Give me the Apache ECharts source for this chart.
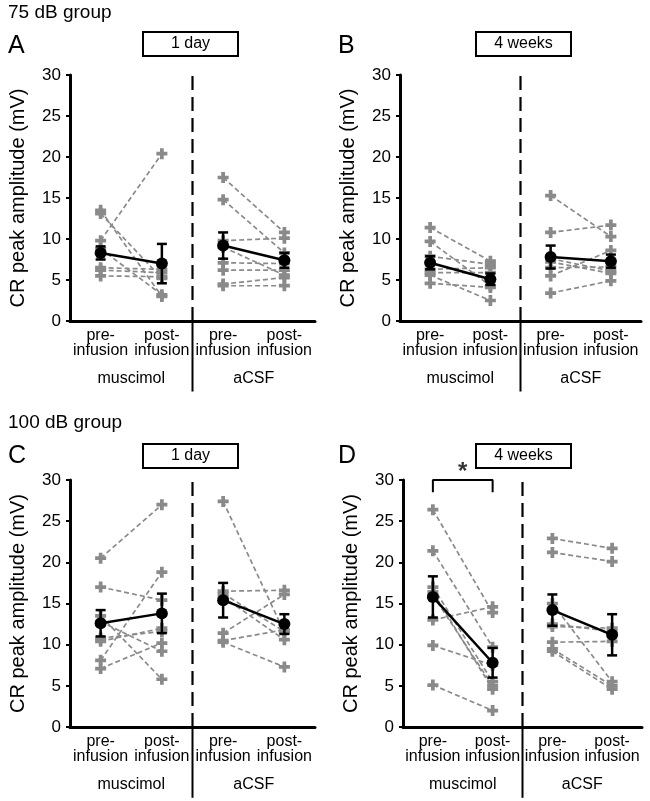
<!DOCTYPE html>
<html><head><meta charset="utf-8">
<script src="https://cdn.jsdelivr.net/npm/echarts@6/dist/echarts.min.js"></script>
<style>html,body{margin:0;padding:0;background:#fff}#c{width:650px;height:801px}</style>
</head><body><div id="c"></div>
<script>
// ---------- data ----------
const categories = ['pre-\ninfusion', 'post-\ninfusion', 'pre-\ninfusion', 'post-\ninfusion'];
const groups = ['muscimol', 'aCSF'];
const yMin = 0, yMax = 30, yStep = 5;
const yName = 'CR peak amplitude (mV)';
const groupTitles = ['75 dB group', '100 dB group'];
const panelLetters = ['A', 'B', 'C', 'D'];
const panelPeriods = ['1 day', '4 weeks', '1 day', '4 weeks'];

// Panel A (75 dB, 1 day)
const A_muscPre  = [13.5, 13.1, 9.8, 8.8, 6.5, 6.2, 5.5];
const A_muscPost = [3.0, 5.2, 20.4, 3.2, 6.3, 5.9, 5.4];
const A_csfPre   = [17.5, 14.8, 9.8, 9.0, 7.1, 6.2, 4.5, 4.3];
const A_csfPost  = [10.8, 8.3, 10.1, 5.6, 7.0, 6.2, 5.3, 4.3];
const A_mean = [8.3, 7.0, 9.2, 7.4];
const A_err  = [0.8, 2.4, 1.6, 0.9];

// Panel B (75 dB, 4 weeks)
const B_muscPre  = [11.4, 9.7, 7.9, 6.3, 5.9, 5.6, 4.6];
const B_muscPost = [7.3, 4.3, 6.9, 6.5, 5.9, 2.5, 4.1];
const B_csfPre   = [15.3, 10.8, 7.6, 7.2, 6.5, 5.5, 3.4];
const B_csfPost  = [10.3, 11.7, 6.1, 5.8, 6.6, 8.6, 4.9];
const B_mean = [7.1, 5.1, 7.8, 7.3];
const B_err  = [0.8, 0.7, 1.4, 0.8];

// Panel C (100 dB, 1 day)
const C_muscPre  = [20.5, 17.0, 13.5, 12.8, 10.8, 10.4, 8.1, 7.1];
const C_muscPost = [27.0, 15.4, 5.8, 9.2, 11.6, 12.0, 18.8, 10.2];
const C_csfPre   = [27.4, 16.5, 16.2, 15.8, 11.4, 10.5, 10.3];
const C_csfPost  = [11.5, 16.6, 11.6, 10.6, 16.1, 11.8, 7.3];
const C_mean = [12.6, 13.8, 15.4, 12.5];
const C_err  = [1.6, 2.4, 2.1, 1.2];

// Panel D (100 dB, 4 weeks)
const D_muscPre  = [26.4, 21.4, 17.0, 16.4, 16.0, 13.0, 9.9, 5.1];
const D_muscPost = [13.9, 9.7, 5.5, 4.6, 5.0, 14.6, 7.5, 2.0];
const D_csfPre   = [22.9, 21.2, 15.0, 12.5, 12.2, 10.3, 9.5, 9.2];
const D_csfPost  = [21.7, 20.1, 5.5, 11.6, 12.0, 10.4, 5.0, 4.6];
const D_mean = [15.8, 7.8, 14.2, 11.2];
const D_err  = [2.5, 1.8, 1.9, 2.5];

// significance (panel D, muscimol pre vs post)
const sigFrom = 1, sigTo = 2, sigLevel = 30, sigDrop = 1.5, sigMark = '*';
const dividerX = 2.5;

// ---------- build ----------
const FONT = 'Liberation Sans, Arial, sans-serif';
const GREY = '#8a8a8a';
const PLUS = 'path://M3.3,0H6.7V3.3H10V6.7H6.7V10H3.3V6.7H0V3.3H3.3Z';

const panels = [
  {musc: [A_muscPre, A_muscPost], csf: [A_csfPre, A_csfPost], mean: A_mean, err: A_err, grid: {left: 70, top: 75, width: 245, height: 246}},
  {musc: [B_muscPre, B_muscPost], csf: [B_csfPre, B_csfPost], mean: B_mean, err: B_err, grid: {left: 400, top: 75, width: 241, height: 246}},
  {musc: [C_muscPre, C_muscPost], csf: [C_csfPre, C_csfPost], mean: C_mean, err: C_err, grid: {left: 70, top: 480, width: 245, height: 247}},
  {musc: [D_muscPre, D_muscPost], csf: [D_csfPre, D_csfPost], mean: D_mean, err: D_err, grid: {left: 403, top: 480, width: 239, height: 247}, sig: true}
];

const grid = [], xAxis = [], yAxis = [], series = [];
panels.forEach((p, i) => {
  grid.push(p.grid);
  const vx = xAxis.length;
  xAxis.push({type: 'value', gridIndex: i, min: 0.5, max: 4.5, show: false});
  xAxis.push({type: 'category', gridIndex: i, position: 'bottom', data: categories, boundaryGap: true,
    axisLine: {lineStyle: {color: '#000', width: 3}},
    axisTick: {alignWithLabel: true, inside: true, length: 4, lineStyle: {color: '#000', width: 2}},
    axisLabel: {color: '#000', fontSize: 16, lineHeight: 15, fontFamily: FONT, margin: 7, interval: 0},
    splitLine: {show: false}});
  xAxis.push({type: 'category', gridIndex: i, position: 'bottom', data: groups, boundaryGap: true,
    axisLine: {show: false}, axisTick: {show: false},
    axisLabel: {color: '#000', fontSize: 16, fontFamily: FONT, margin: 50, interval: 0},
    splitLine: {show: false}});
  yAxis.push({type: 'value', gridIndex: i, min: yMin, max: yMax, interval: yStep,
    name: yName, nameLocation: 'middle', nameGap: 42, nameRotate: 90,
    nameTextStyle: {color: '#000', fontSize: 20, fontFamily: FONT},
    axisLine: {show: true, lineStyle: {color: '#000', width: 3}},
    axisTick: {show: true, length: 4, lineStyle: {color: '#000', width: 2}},
    axisLabel: {color: '#000', fontSize: 17, fontFamily: FONT, margin: 9},
    splitLine: {show: false}});

  const common = {xAxisIndex: vx, yAxisIndex: i};
  series.push(Object.assign({type: 'line', data: [[dividerX, yMin], [dividerX, yMax + 0.4]], symbol: 'none', clip: false, silent: true,
    lineStyle: {color: '#000', width: 2.2, type: [14, 7]}, z: 1}, common));
  series.push(Object.assign({type: 'line', data: [[dividerX, yMin], [dividerX, yMin - 8.6]], symbol: 'none', clip: false, silent: true,
    lineStyle: {color: '#000', width: 2}, z: 1}, common));

  [[p.musc, 1], [p.csf, 3]].forEach(([arr, x0]) => {
    arr[0].forEach((v, k) => {
      series.push(Object.assign({type: 'line', data: [[x0, v], [x0 + 1, arr[1][k]]],
        symbol: PLUS, symbolSize: 11, showSymbol: true, clip: false,
        itemStyle: {color: GREY}, lineStyle: {color: GREY, width: 1.7, type: [5, 3]}, z: 2}, common));
    });
  });

  [[0, 1], [2, 3]].forEach(([a, b]) => {
    series.push(Object.assign({type: 'line', data: [[a + 1, p.mean[a]], [b + 1, p.mean[b]]],
      symbol: 'circle', symbolSize: 12, itemStyle: {color: '#000'}, lineStyle: {color: '#000', width: 2.5}, z: 5}, common));
  });
  series.push(Object.assign({type: 'custom', z: 6,
    data: p.mean.map((m, k) => [k + 1, m, p.err[k]]),
    encode: {x: 0, y: 1},
    renderItem: (params, api) => {
      const x = api.value(0), m = api.value(1), e = api.value(2);
      const t = api.coord([x, m + e]), b = api.coord([x, m - e]);
      const w = 5, st = {stroke: '#000', lineWidth: 2.5};
      return {type: 'group', children: [
        {type: 'line', shape: {x1: t[0], y1: t[1], x2: b[0], y2: b[1]}, style: st},
        {type: 'line', shape: {x1: t[0] - w, y1: t[1], x2: t[0] + w, y2: t[1]}, style: st},
        {type: 'line', shape: {x1: b[0] - w, y1: b[1], x2: b[0] + w, y2: b[1]}, style: st}
      ]};
    }}, common));

  if (p.sig) {
    series.push(Object.assign({type: 'line', data: [[sigFrom, sigLevel - sigDrop], [sigFrom, sigLevel], [sigTo, sigLevel], [sigTo, sigLevel - sigDrop]],
      symbol: 'none', clip: false, lineStyle: {color: '#000', width: 2}, z: 7}, common));
    series.push(Object.assign({type: 'scatter', data: [[(sigFrom + sigTo) / 2, sigLevel + 0.9]], symbolSize: 0, clip: false,
      label: {show: true, position: 'inside', formatter: sigMark, color: '#000', fontSize: 24, fontWeight: 'bold', fontFamily: FONT}, z: 7}, common));
  }
});

const graphic = [];
const txt = (x, y, s, size) => ({type: 'text', left: x, top: y, style: {text: s, font: size + 'px ' + FONT, fill: '#000'}});
graphic.push(txt(8, 3, groupTitles[0], 19));
graphic.push(txt(8, 413, groupTitles[1], 19));
[[8, 34], [338, 34], [8, 444], [338, 444]].forEach(([x, y], i) => graphic.push(txt(x, y, panelLetters[i], 25)));
const boxes = [[142, 31], [475, 31], [142, 443], [475, 443]];
boxes.forEach(([x, y], i) => {
  graphic.push({type: 'group', left: x, top: y, children: [
    {type: 'rect', shape: {x: 0, y: 0, width: 95, height: 24}, style: {fill: '#fff', stroke: '#000', lineWidth: 2}},
    {type: 'text', x: 47.5, y: 12, style: {text: panelPeriods[i], font: '16px ' + FONT, fill: '#000', align: 'center', verticalAlign: 'middle'}}
  ]});
});

const chart = echarts.init(document.getElementById('c'), null, {renderer: 'canvas'});
chart.setOption({animation: false, backgroundColor: '#fff', grid, xAxis, yAxis, series, graphic});
</script></body></html>
